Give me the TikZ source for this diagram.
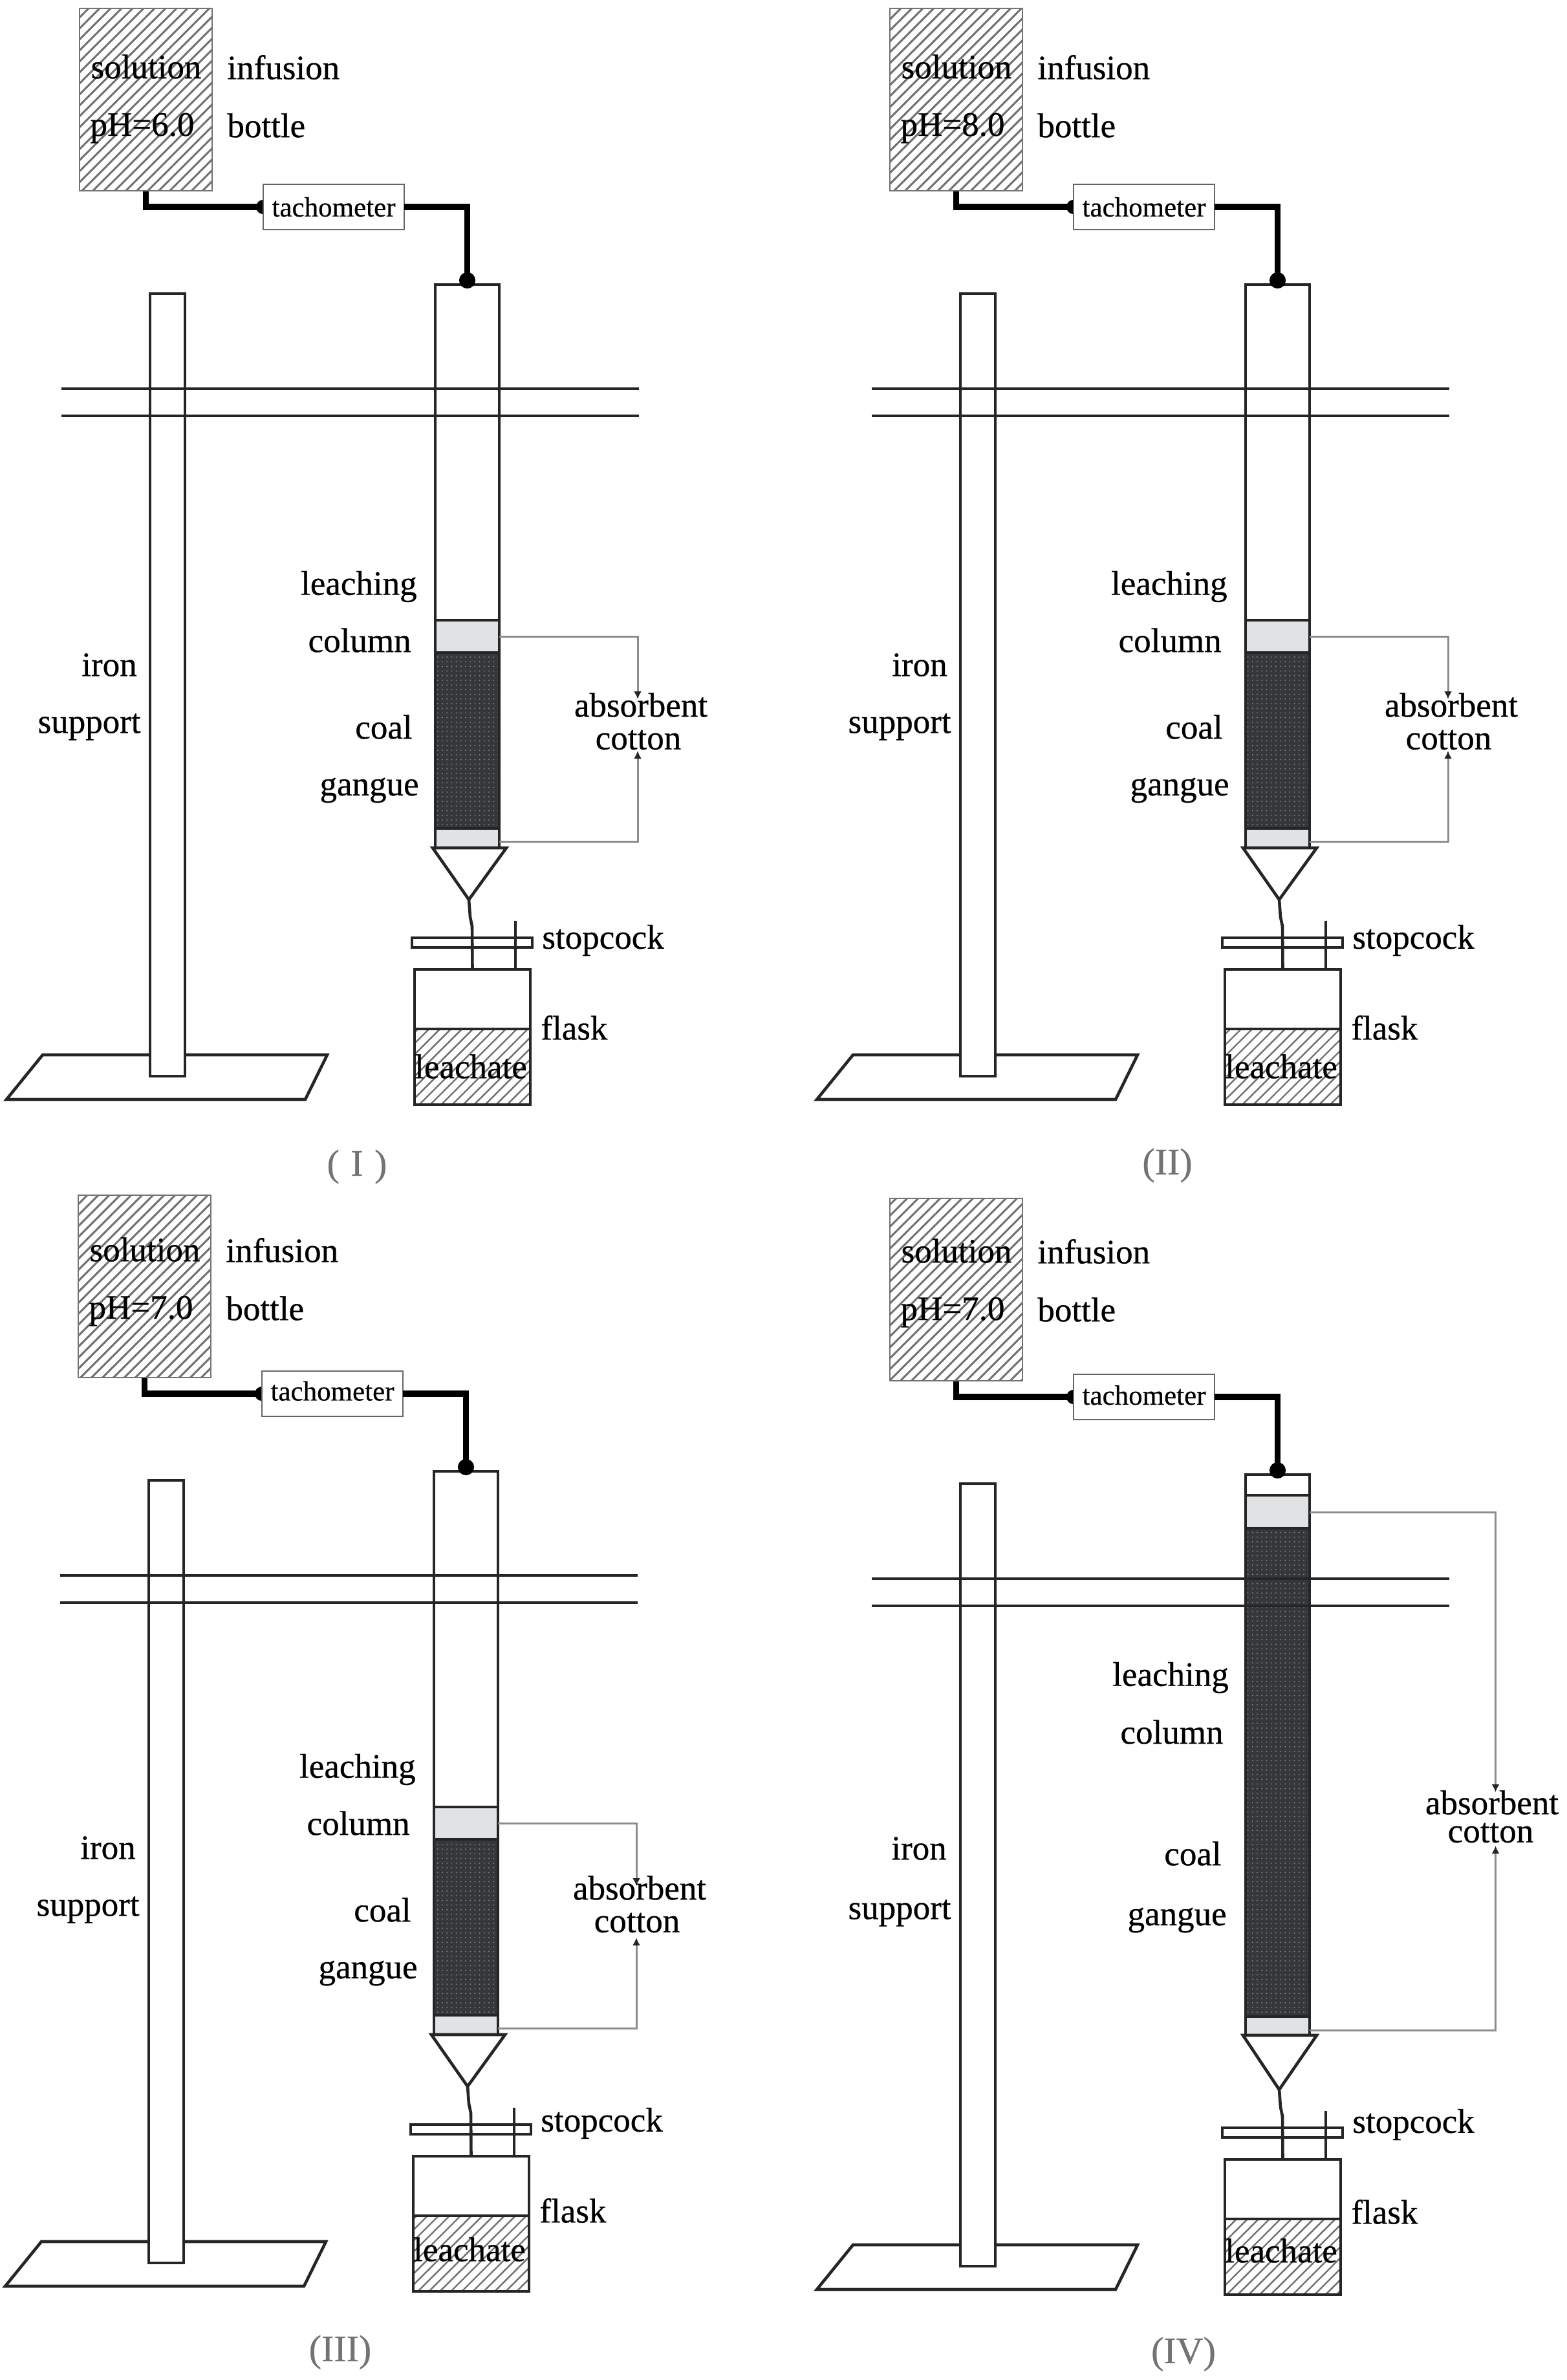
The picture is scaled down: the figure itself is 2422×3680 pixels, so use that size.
\documentclass[tikz,border=0pt]{standalone}
\usepackage{fontspec}
\setmainfont{Liberation Serif}[RawFeature={embolden=0.5}]
\usetikzlibrary{patterns.meta,arrows.meta,backgrounds}
\definecolor{ink}{HTML}{232527}
\definecolor{hatchc}{HTML}{6E7072}
\definecolor{cottonc}{HTML}{E1E2E3}
\definecolor{coalc}{HTML}{35383B}
\definecolor{dotc}{HTML}{7E8184}
\definecolor{guide}{HTML}{8A8C8E}
\tikzset{
  x=0.5pt,y=-0.5pt,
  lbl/.style={font=\fontsize{26.5}{30}\selectfont,inner sep=0pt,text=black},
  capt/.style={font=\fontsize{29}{32}\selectfont,inner sep=0pt,text=black!55},
  tube/.style={draw=ink,line width=2.3pt,fill=white},
  thin line/.style={draw=ink,line width=2.3pt},
  rail/.style={draw=ink,line width=2.2pt},
  wire/.style={draw=black,line width=4.6pt,line join=miter},
  bottlebox/.style={draw=black!55,line width=1.2pt,pattern={Lines[angle=45,distance=6pt,line width=1.5pt]},pattern color=hatchc},
  liquid/.style={draw=ink,line width=2.3pt,pattern={Lines[angle=45,distance=6pt,line width=1.2pt]},pattern color=hatchc},
  meter/.style={draw=black!60,line width=1.2pt,fill=white,font=\fontsize{21.5}{24}\selectfont,text=black},
  cottonbox/.style={draw=ink,line width=2.3pt,fill=cottonc},
  coalbox/.style={draw=ink,line width=2.3pt,preaction={fill=coalc},pattern={Dots[distance=3.6pt,radius=0.55pt]},pattern color=dotc},
  guideline/.style={draw=guide,line width=1.5pt,-{Latex[length=6pt,width=6pt,color=ink]}}
}
% #1 name, #2 x1, #3 y1, #4 x2, #5 y2, #6 style, #7 text
\newcommand{\rectnode}[7]{%
  \pgfmathsetmacro{\rnw}{(#4-#2)*0.5}%
  \pgfmathsetmacro{\rnh}{(#5-#3)*0.5}%
  \node[#6,rectangle,minimum width=\rnw pt,minimum height=\rnh pt,inner sep=0pt,outer sep=0pt] (#1) at ({(#2+#4)/2},{(#3+#5)/2}) {#7};}
% #1 prefix, #2 cotton top, #3 coal top, #4 coal bottom, #5 column bottom, #6 raise of meter text
\newcommand{\apparatus}[6]{%
  \rectnode{#1bottle}{123}{13}{328}{295}{bottlebox}{}
  \rectnode{#1tach}{407}{285}{625}{355}{meter}{\raisebox{#6}{tachometer}}
  \draw[thin line,fill=white] (66,1631) coordinate (#1ba) -- (506,1631) coordinate (#1bb) -- (472,1700) coordinate (#1bc) -- (10,1700) coordinate (#1bd) -- cycle;
  \rectnode{#1iron}{232}{454}{286}{1664}{tube}{}
  \rectnode{#1col}{673}{440}{772}{#5}{tube}{}
  \rectnode{#1cottontop}{673}{#2}{772}{#3}{cottonbox}{}
  \rectnode{#1coal}{673}{#3}{772}{#4}{coalbox}{}
  \rectnode{#1cottonbot}{673}{#4}{772}{#5}{cottonbox}{}
  \begin{scope}[on background layer]
    \draw[wire,-{Circle[length=11pt,width=11pt]}] (#1bottle.south) |- ([xshift=5.5pt]#1tach.west);
  \end{scope}
  \draw[wire,-{Circle[length=12.5pt,width=12.5pt]},shorten >=-3pt] (#1tach.east) -| (#1col.north);
  \coordinate (#1ra) at (95,601); \coordinate (#1rb) at (988,601);
  \coordinate (#1rc) at (95,643); \coordinate (#1rd) at (988,643);
  \draw[rail] (#1ra) -- (#1rb);
  \draw[rail] (#1rc) -- (#1rd);
  \coordinate (#1fa) at (669,#5); \coordinate (#1fb) at (783,#5); \coordinate (#1fc) at (725,1391);
  \draw[tube,line join=miter] (#1fa) -- (#1fb) -- (#1fc) -- cycle;
  \rectnode{#1flask}{641}{1499}{820}{1591}{tube}{}
  \rectnode{#1leach}{641}{1591}{820}{1708}{liquid}{}
  \rectnode{#1cock}{637}{1450}{823}{1465}{tube}{}
  \coordinate (#1s1) at (727,1418); \coordinate (#1s2) at (730,1432);
  \draw[thin line] (#1fc) -- (#1s1) -- (#1s2) -- (#1flask.north);
  \coordinate (#1h1) at (797,1424); \coordinate (#1h2) at (797,1499);
  \draw[draw=ink,line width=1.8pt] (#1h1) -- (#1h2);
}
% #1 prefix, #2 y top, #3 y bottom, #4 x, #5 arrow end down, #6 arrow end up
\newcommand{\guides}[6]{%
  \coordinate (#1ga) at (772,#2); \coordinate (#1gb) at (#4,#5);
  \coordinate (#1gc) at (772,#3); \coordinate (#1gd) at (#4,#6);
  \draw[guideline] (#1ga) -| (#1gb);
  \draw[guideline] (#1gc) -| (#1gd);
}
% #1 prefix, #2 pH value
\newcommand{\commonlabels}[2]{%
  \node[lbl] (#1solution) at (226,103) {solution};
  \node[lbl] (#1ph) at (220,198) {pH=#2};
  \node[lbl,anchor=west] (#1infusion) at (351,104) {infusion};
  \node[lbl,anchor=west] (#1bottlet) at (351,194) {bottle};
  \node[lbl,anchor=west] (#1stop) at (838,1454) {stopcock};
  \node[lbl,anchor=west] (#1flaskt) at (836,1589) {flask};
  \node[lbl] (#1leacht) at (728,1649) {leachate};
}
\newcommand{\columnlabels}[1]{%
  \node[lbl] (#1iron1) at (169,1028) {iron};
  \node[lbl,anchor=east] (#1iron2) at (218,1124) {support};
  \node[lbl,anchor=east] (#1l1) at (645,907) {leaching};
  \node[lbl,anchor=east] (#1l2) at (636,990) {column};
  \node[lbl,anchor=east] (#1c1) at (638,1124) {coal};
  \node[lbl,anchor=east] (#1c2) at (648,1222) {gangue};
  \node[lbl] (#1a1) at (991,1090) {absorbent};
  \node[lbl] (#1a2) at (987,1144) {cotton};
}
\begin{document}
\begin{tikzpicture}
\useasboundingbox (0,0) rectangle (2422,3680);
\begin{scope}[on background layer]
\fill[white] (0,0) rectangle (2422,3680);
\end{scope}
% Panel I
\apparatus{A}{959}{1009}{1281}{1311}{0pt}
\guides{A}{984}{1301}{986}{1081}{1161}
\commonlabels{A}{6.0}
\columnlabels{A}
\node[capt] (Acap) at (552,1804) {(\hspace{0.3em}I\hspace{0.3em})};
% Panel II
\begin{scope}[shift={(1253,0)}]
\apparatus{B}{959}{1009}{1281}{1311}{0pt}
\guides{B}{984}{1301}{986}{1081}{1161}
\commonlabels{B}{8.0}
\columnlabels{B}
\node[capt] (Bcap) at (552,1802) {(II)};
\end{scope}
% Panel III
\begin{scope}[shift={(-2,1835)}]
\apparatus{C}{959}{1009}{1281}{1311}{4.5pt}
\guides{C}{984}{1301}{986}{1081}{1161}
\end{scope}
\begin{scope}[shift={(-2,1829)}]
\commonlabels{C}{7.0}
\columnlabels{C}
\end{scope}
\node[capt] (Ccap) at (526,3637) {(III)};
% Panel IV
\begin{scope}[shift={(1253,1840)}]
\apparatus{D}{472}{523}{1278}{1307}{3pt}
\guides{D}{498}{1299}{1059.5}{931}{1014}
\end{scope}
\begin{scope}[shift={(1253,1831)}]
\commonlabels{D}{7.0}
\end{scope}
\node[lbl] (Di1) at (1421,2858) {iron};
\node[lbl,anchor=east] (Di2) at (1471,2958) {support};
\node[lbl] (Dl1) at (1810,2594) {leaching};
\node[lbl] (Dl2) at (1812,2678) {column};
\node[lbl,anchor=east] (Dc1) at (1889,2866) {coal};
\node[lbl,anchor=east] (Dc2) at (1897,2969) {gangue};
\node[lbl] (Da1) at (2307,2787) {absorbent};
\node[lbl] (Da2) at (2305,2834) {cotton};
\node[capt] (Dcap) at (1830,3640) {(IV)};
\end{tikzpicture}
\end{document}
